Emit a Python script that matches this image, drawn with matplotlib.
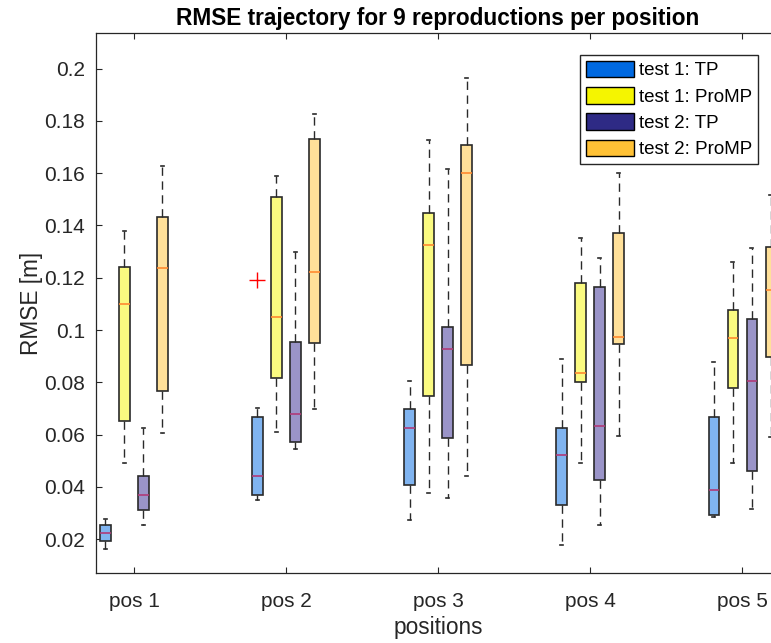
import matplotlib
matplotlib.use('Agg')
from matplotlib import pyplot as plt
from matplotlib.patches import Patch

plt.rcParams['font.family'] = ['Liberation Sans', 'DejaVu Sans']

positions_labels = ['pos 1', 'pos 2', 'pos 3', 'pos 4', 'pos 5']
series_names = ['test 1: TP', 'test 1: ProMP', 'test 2: TP', 'test 2: ProMP']

# test 1: TP
t1_tp_lo = [0.0162, 0.0350, 0.0274, 0.0178, 0.0284]
t1_tp_q1 = [0.0195, 0.0369, 0.0407, 0.0331, 0.0293]
t1_tp_med = [0.0225, 0.0442, 0.0627, 0.0522, 0.0389]
t1_tp_q3 = [0.0255, 0.0669, 0.0698, 0.0627, 0.0666]
t1_tp_hi = [0.0278, 0.0701, 0.0805, 0.0889, 0.0879]
t1_tp_out = [[], [0.1192], [], [], []]

# test 1: ProMP
t1_pm_lo = [0.0493, 0.0611, 0.0376, 0.0491, 0.0493]
t1_pm_q1 = [0.0653, 0.0818, 0.0748, 0.0803, 0.0778]
t1_pm_med = [0.1100, 0.1050, 0.1324, 0.0836, 0.0970]
t1_pm_q3 = [0.1243, 0.1510, 0.1447, 0.1181, 0.1077]
t1_pm_hi = [0.1380, 0.1589, 0.1727, 0.1351, 0.1259]
t1_pm_out = [[], [], [], [], []]

# test 2: TP
t2_tp_lo = [0.0255, 0.0544, 0.0359, 0.0255, 0.0316]
t2_tp_q1 = [0.0312, 0.0573, 0.0589, 0.0427, 0.0461]
t2_tp_med = [0.0371, 0.0679, 0.0929, 0.0634, 0.0804]
t2_tp_q3 = [0.0443, 0.0956, 0.1013, 0.1166, 0.1041]
t2_tp_hi = [0.0625, 0.1299, 0.1615, 0.1275, 0.1315]
t2_tp_out = [[], [], [], [], []]

# test 2: ProMP
t2_pm_lo = [0.0605, 0.0698, 0.0442, 0.0596, 0.0590]
t2_pm_q1 = [0.0765, 0.0952, 0.0867, 0.0945, 0.0898]
t2_pm_med = [0.1236, 0.1221, 0.1600, 0.0974, 0.1153]
t2_pm_q3 = [0.1432, 0.1732, 0.1708, 0.1370, 0.1319]
t2_pm_hi = [0.1626, 0.1826, 0.1963, 0.1600, 0.1517]
t2_pm_out = [[], [], [], [], []]

legend_colors = ['#0069E1', '#F5F500', '#2E2A85', '#FFC135']
fill_colors = ['#80B4F0', '#FAFA80', '#9A94C8', '#FFE099']
median_colors = ['#B03A78', '#FF8A30', '#B03A78', '#FF8A30']

series = [
    (t1_tp_lo, t1_tp_q1, t1_tp_med, t1_tp_q3, t1_tp_hi, t1_tp_out),
    (t1_pm_lo, t1_pm_q1, t1_pm_med, t1_pm_q3, t1_pm_hi, t1_pm_out),
    (t2_tp_lo, t2_tp_q1, t2_tp_med, t2_tp_q3, t2_tp_hi, t2_tp_out),
    (t2_pm_lo, t2_pm_q1, t2_pm_med, t2_pm_q3, t2_pm_hi, t2_pm_out),
]

fig = plt.figure(figsize=(7.71, 6.43), dpi=100)
# axes run slightly past the right border (the reference is cropped there)
ax = fig.add_axes([0.1245, 0.1089, 0.8872, 0.8398])

group_x = list(range(1, len(positions_labels) + 1))
offsets = [-0.1875, -0.0625, 0.0625, 0.1875]
edge = '#2a2a2a'

for k, (lo, q1, med, q3, hi, out) in enumerate(series):
    stats = []
    for i in range(len(group_x)):
        stats.append({'whislo': lo[i], 'q1': q1[i], 'med': med[i],
                      'q3': q3[i], 'whishi': hi[i], 'fliers': out[i]})
    ax.bxp(stats, positions=[g + offsets[k] for g in group_x],
           widths=0.066, capwidths=0.026, patch_artist=True,
           boxprops=dict(facecolor=fill_colors[k], edgecolor=edge, linewidth=1.2),
           whiskerprops=dict(color=edge, linestyle=(0, (6, 4)), linewidth=1.0),
           capprops=dict(color=edge, linewidth=1.2),
           medianprops=dict(color=median_colors[k], linewidth=1.2),
           flierprops=dict(marker='+', markeredgecolor='red', markersize=11,
                           markeredgewidth=1.0))

ax.set_xlim(0.75, 5.25)
ax.set_ylim(0.0071, 0.2136)
ax.set_xticks(group_x)
ax.set_xticklabels(positions_labels)
ax.set_yticks([0.02, 0.04, 0.06, 0.08, 0.1, 0.12, 0.14, 0.16, 0.18, 0.2])
ax.set_yticklabels(['0.02', '0.04', '0.06', '0.08', '0.1', '0.12', '0.14', '0.16', '0.18', '0.2'])
ax.tick_params(direction='in', length=4, width=0.8, top=True, right=True,
               labelsize=15, colors='#262626', pad=8)
ax.tick_params(axis='x', pad=13.5)
for s in ax.spines.values():
    s.set_color('#262626')
    s.set_linewidth(0.9)

ax.set_xlabel('positions', fontsize=16.3, color='#262626', labelpad=4)
ax.set_ylabel('RMSE [m]', fontsize=16.3, color='#262626', labelpad=1)
ax.set_title('RMSE trajectory for 9 reproductions per position',
             fontsize=16.3, fontweight='bold', color='black', pad=6)

handles = [Patch(facecolor=c, edgecolor='black', linewidth=1.0) for c in legend_colors]
leg = fig.legend(handles, series_names, loc='upper right',
                 bbox_to_anchor=(758 / 771, 1 - 55 / 643), fontsize=13.5,
                 handlelength=2.55, handleheight=1.0, handletextpad=0.3,
                 labelspacing=0.4, borderpad=0.3, borderaxespad=0,
                 fancybox=False, framealpha=1)
leg.get_frame().set_edgecolor('#262626')
leg.get_frame().set_linewidth(1.0)

plt.savefig('out.png', dpi=100)
